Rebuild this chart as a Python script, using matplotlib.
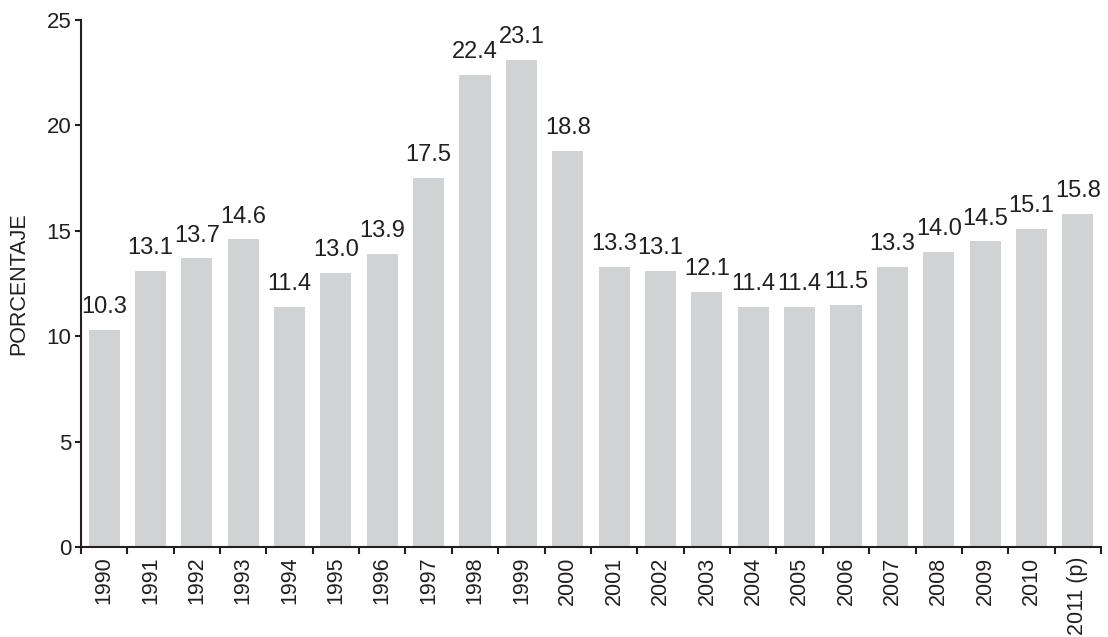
import matplotlib
matplotlib.use("Agg")
import matplotlib.pyplot as plt
import numpy as np

years = ["1990", "1991", "1992", "1993", "1994", "1995", "1996", "1997", "1998", "1999",
         "2000", "2001", "2002", "2003", "2004", "2005", "2006", "2007", "2008", "2009",
         "2010", "2011 (p)"]
values = [10.3, 13.1, 13.7, 14.6, 11.4, 13.0, 13.9, 17.5, 22.4, 23.1,
          18.8, 13.3, 13.1, 12.1, 11.4, 11.4, 11.5, 13.3, 14.0, 14.5,
          15.1, 15.8]
labels = ["10.3", "13.1", "13.7", "14.6", "11.4", "13.0", "13.9", "17.5", "22.4", "23.1",
          "18.8", "13.3", "13.1", "12.1", "11.4", "11.4", "11.5", "13.3", "14.0", "14.5",
          "15.1", "15.8"]
yticks = [0, 5, 10, 15, 20, 25]

plt.rcParams['font.family'] = ['Liberation Sans', 'DejaVu Sans']
axis_color = "#231f20"

fig = plt.figure(figsize=(11.08, 6.37), dpi=100)
ax = fig.add_axes([0.073, 0.1413, 0.9207, 0.8273])

x = np.arange(len(years))
ax.bar(x, values, width=0.67, color="#d1d2d4", zorder=2)
for xi, v, lab in zip(x, values, labels):
    ax.annotate(lab, (xi, v), xytext=(0, 12), textcoords="offset points",
                ha="center", va="baseline", fontsize=17, color=axis_color)

ax.set_xlim(-0.5, len(years) - 0.5)
ax.set_ylim(0, 25)
ax.set_yticks(yticks)
ax.set_yticklabels([str(t) for t in yticks], fontsize=16, color=axis_color)
ax.set_xticks(x)
ax.set_xticklabels(years, rotation=90, fontsize=15.5, color=axis_color)
ax.set_xticks(np.arange(-0.5, len(years)), minor=True)
ax.tick_params(axis='x', which='major', length=0, pad=7)
ax.tick_params(axis='x', which='minor', length=5, width=1.5, color=axis_color, direction='out')
ax.tick_params(axis='y', length=4, width=1.5, color=axis_color, direction='out', pad=3)

for s in ["top", "right"]:
    ax.spines[s].set_visible(False)
for s in ["left", "bottom"]:
    ax.spines[s].set_linewidth(1.5)
    ax.spines[s].set_color(axis_color)

ax.set_ylabel("PORCENTAJE", fontsize=15.5, color=axis_color, labelpad=12)

fig.savefig("out.png", dpi=100)
